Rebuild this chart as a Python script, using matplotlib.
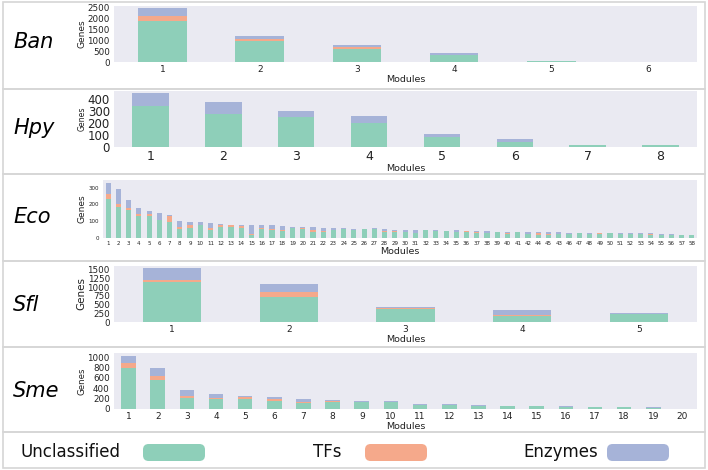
import matplotlib.pyplot as plt
from matplotlib.patches import Rectangle, FancyBboxPatch

# colours (Set2 washed out)
c_unc = '#8ecfb9'
c_tf = '#f5a98b'
c_enz = '#a6b3d8'

# --- data ---
ban_mod = ['1', '2', '3', '4', '5', '6']
ban_unc = [1870, 950, 610, 300, 55, 3]
ban_tf = [230, 110, 60, 20, 5, 0]
ban_enz = [380, 120, 130, 80, 5, 0]

hpy_mod = ['1', '2', '3', '4', '5', '6', '7', '8']
hpy_unc = [340, 275, 248, 200, 80, 45, 15, 18]
hpy_tf = [8, 3, 2, 2, 2, 1, 0, 0]
hpy_enz = [102, 97, 50, 55, 30, 20, 2, 2]

eco_mod = [str(i) for i in range(1, 43)] + ['44', '45', '43'] + [str(i) for i in range(46, 59)]
eco_unc = [230, 185, 165, 130, 130, 105, 95, 55, 60, 75, 45, 65, 65, 60, 20, 55, 50, 40, 60, 55,
           35, 35, 50, 55, 50, 55, 55, 35, 35, 35, 30, 45, 42, 40, 35, 35, 30, 30, 35, 25,
           35, 25, 20, 20, 25, 25, 28, 25, 25, 28, 25, 25, 25, 20, 20, 18, 15, 15]
eco_tf = [30, 20, 15, 10, 15, 5, 35, 10, 15, 5, 15, 10, 10, 10, 5, 5, 5, 10, 0, 5,
          10, 5, 0, 0, 0, 0, 0, 5, 5, 0, 0, 0, 0, 0, 3, 5, 3, 0, 0, 3,
          0, 0, 8, 5, 0, 0, 0, 0, 3, 0, 0, 0, 0, 6, 0, 0, 0, 0]
eco_enz = [70, 85, 45, 40, 15, 40, 8, 35, 20, 15, 30, 10, 5, 10, 55, 15, 20, 20, 5, 5,
           20, 20, 10, 5, 5, 0, 3, 15, 10, 12, 18, 3, 3, 4, 7, 3, 10, 10, 3, 10,
           3, 10, 8, 10, 8, 7, 4, 6, 3, 3, 4, 3, 3, 4, 5, 4, 5, 4]

sfl_mod = ['1', '2', '3', '4', '5']
sfl_unc = [1150, 730, 380, 175, 230]
sfl_tf = [60, 140, 20, 30, 0]
sfl_enz = [340, 220, 40, 140, 30]

sme_mod = [str(i) for i in range(1, 21)]
sme_unc = [800, 560, 210, 190, 200, 160, 110, 140, 130, 130, 70, 80, 50, 50, 50, 45, 40, 35, 20, 5]
sme_tf = [80, 80, 40, 30, 30, 30, 30, 10, 0, 0, 5, 0, 0, 0, 0, 0, 0, 0, 0, 0]
sme_enz = [150, 160, 110, 60, 30, 50, 60, 30, 20, 20, 20, 20, 20, 10, 5, 5, 5, 5, 10, 3]

W, H = 708, 470
fig = plt.figure(figsize=(W / 100, H / 100), dpi=100)


def px_axes(x0, y0, x1, y1):
    return fig.add_axes([x0 / W, 1 - y1 / H, (x1 - x0) / W, (y1 - y0) / H])


def panel(box, name, name_y, mods, unc, tf, enz, yticks, ymax, tsize, xsize, gsize):
    ax = px_axes(*box)
    ax.set_facecolor('#eaeaf2')
    x = list(range(len(mods)))
    b2 = [a + b for a, b in zip(unc, tf)]
    ax.bar(x, unc, 0.5, color=c_unc)
    ax.bar(x, tf, 0.5, bottom=unc, color=c_tf)
    ax.bar(x, enz, 0.5, bottom=b2, color=c_enz)
    ax.set_xlim(-0.5, len(mods) - 0.5)
    ax.set_ylim(0, ymax)
    ax.set_xticks(x)
    ax.set_xticklabels(mods)
    ax.set_yticks(yticks)
    ax.tick_params(axis='y', length=0, labelsize=tsize, pad=3, colors='#222222')
    ax.tick_params(axis='x', length=0, labelsize=xsize, pad=2, colors='#222222')
    for s in ax.spines.values():
        s.set_visible(False)
    ax.set_ylabel('Genes', fontsize=gsize, labelpad=1, color='#222222')
    ax.set_xlabel('Modules', fontsize=6.8, labelpad=1, color='#222222')
    fig.text(13 / W, 1 - name_y / H, name, fontsize=15, style='italic', va='center', ha='left')
    return ax


panel((114, 6, 697, 62), 'Ban', 42, ban_mod, ban_unc, ban_tf, ban_enz,
      [0, 500, 1000, 1500, 2000, 2500], 2560, 6.3, 6.5, 6.5)
panel((114, 91, 697, 147), 'Hpy', 128, hpy_mod, hpy_unc, hpy_tf, hpy_enz,
      [0, 100, 200, 300, 400], 470, 8.5, 9, 5.6)
panel((103, 180, 697, 238), 'Eco', 217, eco_mod, eco_unc, eco_tf, eco_enz,
      [0, 100, 200, 300], 345, 4, 4, 6.5)
panel((114, 266, 697, 322), 'Sfl', 305, sfl_mod, sfl_unc, sfl_tf, sfl_enz,
      [0, 250, 500, 750, 1000, 1250, 1500], 1615, 6.3, 6.5, 7.5)
panel((114, 353, 697, 409), 'Sme', 391, sme_mod, sme_unc, sme_tf, sme_enz,
      [0, 200, 400, 600, 800, 1000], 1080, 6.3, 6.5, 6.2)

# panel frames
for top, bot in [(2, 89), (89, 174), (174, 261), (261, 347), (347, 432), (432, 468)]:
    fig.add_artist(Rectangle((3 / W, 1 - bot / H), 702 / W, (bot - top) / H,
                             transform=fig.transFigure, fill=False, ec='#d6d6d6', lw=1.2))

# legend
leg = [('Unclassified', 20, 143, c_unc), ('TFs', 313, 365, c_tf), ('Enzymes', 523, 607, c_enz)]
for txt, tx, rx, col in leg:
    fig.text(tx / W, 1 - 452 / H, txt, fontsize=12, va='center', ha='left', color='#111111')
    fig.add_artist(FancyBboxPatch((rx / W, 1 - 461 / H), 62 / W, 17 / H,
                                  boxstyle='round,pad=0,rounding_size=0.008',
                                  mutation_aspect=W / H, transform=fig.transFigure,
                                  fc=col, ec='none'))

fig.savefig('out.png', dpi=100)
